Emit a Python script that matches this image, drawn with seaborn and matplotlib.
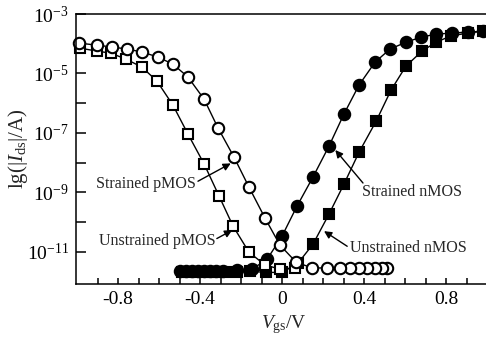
import numpy as np
import pandas as pd
import matplotlib
matplotlib.use('Agg')
import matplotlib.pyplot as plt
import seaborn as sns
from matplotlib.ticker import FixedLocator, NullFormatter

# ---------------- data ----------------
# Strained pMOS (open circles), listed from high to low Vgs
sp_V = [0.512, 0.488, 0.454, 0.415, 0.376, 0.332, 0.283, 0.220, 0.146, 0.068,
        -0.010, -0.083, -0.161, -0.234, -0.312, -0.380, -0.459, -0.532,
        -0.605, -0.683, -0.756, -0.829, -0.902, -0.990]
sp_lg = [-11.55, -11.55, -11.55, -11.55, -11.55, -11.55, -11.55, -11.55, -11.55, -11.35,
         -10.78, -9.87, -8.83, -7.82, -6.84, -5.87, -5.12, -4.69,
         -4.45, -4.28, -4.18, -4.11, -4.05, -3.98]

# Unstrained pMOS (open squares)
up_V = [0.063, -0.010, -0.083, -0.161, -0.239, -0.307, -0.380, -0.459, -0.532,
        -0.610, -0.683, -0.761, -0.834, -0.902, -0.985]
up_lg = [-11.55, -11.59, -11.45, -11.02, -10.14, -9.13, -8.05, -7.04, -6.07,
         -5.26, -4.79, -4.52, -4.32, -4.25, -4.15]

# Strained nMOS (filled circles)
sn_V = [-0.500, -0.470, -0.440, -0.410, -0.380, -0.350, -0.320, -0.290,
        -0.220, -0.146, -0.073, 0.000, 0.073, 0.151, 0.229, 0.302, 0.376,
        0.454, 0.527, 0.605, 0.678, 0.751, 0.829, 0.907, 0.980]
sn_lg = [-11.66, -11.66, -11.66, -11.66, -11.66, -11.66, -11.66, -11.66,
         -11.63, -11.59, -11.26, -10.48, -9.47, -8.49, -7.45, -6.37, -5.39,
         -4.62, -4.18, -3.95, -3.78, -3.68, -3.64, -3.61, -3.58]

# Unstrained nMOS (filled squares)
un_V = [-0.490, -0.455, -0.420, -0.385, -0.350, -0.315, -0.280,
        -0.220, -0.156, -0.078, 0.000, 0.078, 0.151, 0.229, 0.302, 0.376,
        0.459, 0.532, 0.605, 0.683, 0.751, 0.824, 0.907, 0.980]
un_lg = [-11.68, -11.68, -11.68, -11.68, -11.68, -11.68, -11.68,
         -11.70, -11.66, -11.70, -11.70, -11.39, -10.75, -9.74, -8.73, -7.65,
         -6.61, -5.56, -4.75, -4.25, -3.95, -3.74, -3.64, -3.58]

x_major = [-0.8, -0.4, 0.0, 0.4, 0.8]
x_major_labels = ['-0.8', '-0.4', '0', '0.4', '0.8']
x_minor = [-0.9, -0.7, -0.6, -0.5, -0.3, -0.2, -0.1, 0.1, 0.2, 0.3, 0.5, 0.6, 0.7, 0.9]
y_major_exp = [-3, -5, -7, -9, -11]
y_minor_exp = [-4, -6, -8, -10]

# annotations: text, text anchor (V, lg), ha, arrow start (V, lg), arrow tip (V, lg)
ann_text = ['Strained pMOS', 'Unstrained pMOS', 'Strained nMOS', 'Unstrained nMOS']
ann_pos = [(-0.418, -8.72), (-0.322, -10.65), (0.392, -9.00), (0.330, -10.88)]
ann_ha = ['right', 'right', 'left', 'left']
ann_start = [(-0.410, -8.63), (-0.318, -10.56), (0.395, -8.69), (0.318, -10.82)]
ann_tip = [(-0.250, -8.03), (-0.243, -10.28), (0.260, -7.58), (0.205, -10.31)]

# ---------------- style ----------------
sns.set_style('ticks')
plt.rcParams['font.family'] = ['Liberation Serif', 'DejaVu Serif']
plt.rcParams['mathtext.fontset'] = 'custom'
plt.rcParams['mathtext.rm'] = 'Liberation Serif'
plt.rcParams['mathtext.it'] = 'Liberation Serif:italic'
plt.rcParams['mathtext.bf'] = 'Liberation Serif:bold'

fig = plt.figure(figsize=(4.86, 3.38), dpi=100)
ax = fig.add_axes([76 / 486, 54 / 338, 415 / 486, 270 / 338])


def draw(V, lg, marker, filled, ms):
    df = pd.DataFrame({'V': V, 'I': np.power(10.0, np.array(lg))})
    sns.lineplot(data=df, x='V', y='I', sort=False, estimator=None, ax=ax,
                 color='black', lw=1.0, marker=marker, ms=ms,
                 mfc='black' if filled else 'white', mec='black', mew=1.5,
                 clip_on=False)


draw(un_V, un_lg, 's', True, 7.0)
draw(sn_V, sn_lg, 'o', True, 8.2)
draw(up_V, up_lg, 's', False, 7.0)
draw(sp_V, sp_lg, 'o', False, 8.2)

ax.set_yscale('log')
ax.set_xlim(-1.005, 1.0195)
ax.set_ylim(10 ** -12.09, 1e-3)

ax.xaxis.set_major_locator(FixedLocator(x_major))
ax.set_xticklabels(x_major_labels)
ax.xaxis.set_minor_locator(FixedLocator(x_minor))
ax.yaxis.set_major_locator(FixedLocator([10.0 ** e for e in y_major_exp]))
ax.set_yticklabels([r'$10^{%d}$' % e for e in y_major_exp])
ax.yaxis.set_minor_locator(FixedLocator([10.0 ** e for e in y_minor_exp]))
ax.yaxis.set_minor_formatter(NullFormatter())

ax.tick_params(axis='both', which='both', direction='in', width=1.1,
               color='black', labelsize=14, labelcolor='black')
ax.tick_params(axis='x', which='both', length=4.5, pad=5)
ax.tick_params(axis='y', which='both', length=7.5, pad=5)
for s in ax.spines.values():
    s.set_linewidth(1.1)
    s.set_color('black')

ax.set_xlabel(r'$V_{\mathrm{gs}}$/V', fontsize=14, labelpad=4)
ax.set_ylabel(r'lg($|I_{\mathrm{ds}}|$/A)', fontsize=15, labelpad=-2)

for t, p, ha, st, tp in zip(ann_text, ann_pos, ann_ha, ann_start, ann_tip):
    ax.text(p[0], 10 ** p[1], t, ha=ha, va='center', fontsize=11.5)
    ax.annotate('', xy=(tp[0], 10 ** tp[1]), xytext=(st[0], 10 ** st[1]),
                arrowprops=dict(arrowstyle='-|>', color='black', lw=1.0,
                                mutation_scale=11, shrinkA=0, shrinkB=0))

fig.savefig('out.png', dpi=100)
